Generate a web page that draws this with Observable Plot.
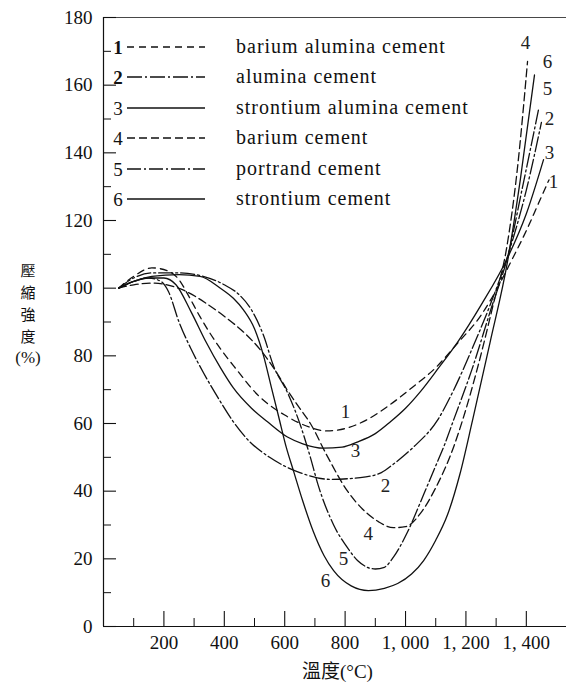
<!DOCTYPE html>
<html><head><meta charset="utf-8">
<script src="https://cdn.jsdelivr.net/npm/d3@7"></script>
<script src="https://cdn.jsdelivr.net/npm/@observablehq/plot@0.6"></script>
<style>
html,body{margin:0;padding:0;background:#fff;}
#wrap{position:relative;width:567px;height:689px;font-family:'Liberation Serif','Noto Sans CJK TC',serif;color:#111;overflow:hidden;}
#wrap > svg{position:absolute;left:0;top:0;}
.lg{position:absolute;white-space:nowrap;line-height:1;}
.lgnum{font-size:19px;width:12px;text-align:center;}
.lgtxt{font-size:20px;letter-spacing:1px;}
#ylab{position:absolute;left:14px;top:259px;width:28px;font-size:15px;line-height:22px;text-align:center;font-family:'Noto Sans CJK TC',serif;}
#ylab .pc{font-family:'Liberation Serif',serif;font-size:17px;}
#xlab{position:absolute;left:302px;top:656px;font-size:19px;white-space:nowrap;}
</style>
</head><body>
<div id="wrap"></div>
<script>
// ---- data (temperature °C, compressive strength %) ----
const seriesNames = ["barium alumina cement","alumina cement","strontium alumina cement","barium cement","portrand cement","strontium cement"];
const seriesIds = ["1","2","3","4","5","6"];
const s1 = [[50,100],[100,103.5],[160,106],[215,105],[250,102.5],[280,98],[320,91.5],[380,83],[440,76],[510,68.5],[600,62.5],[680,59],[740,57.8],[800,58.5],[870,61],[940,65],[1020,70.5],[1100,76.5],[1170,83.5],[1250,92],[1310,101],[1350,108],[1400,117],[1440,125],[1475,132]];
const s2 = [[50,100],[100,102],[150,103],[190,102],[215,99],[250,90],[290,82],[331,75],[380,67.5],[430,60.5],[480,55],[550,50],[650,45.5],[750,43.5],[850,44],[920,45.5],[960,48],[1026,53],[1106,61],[1160,70],[1220,82],[1280,95],[1340,110],[1400,129],[1450,149]];
const s3 = [[50,100],[100,102],[150,103],[200,103],[240,101],[290,93],[340,84],[387,76.5],[430,70.5],[490,64.5],[543,60.5],[609,56],[660,54],[728,52.7],[790,53],[840,54.5],[900,57],[950,60.5],[1000,64.5],[1050,69.5],[1110,76.5],[1172,84],[1250,95],[1338,109],[1400,122],[1457,138]];
const s4 = [[50,100],[100,101],[170,101.5],[230,100.5],[265,99.4],[340,95.5],[410,91],[470,86.5],[520,81.7],[570,75.5],[609,69.8],[650,64.5],[685,60],[740,50.5],[808,40],[860,34.5],[910,31],[960,29.2],[1000,29.5],[1050,33.5],[1100,41],[1159,53],[1189,61],[1240,77],[1290,95],[1335,112],[1370,135],[1404,167]];
const s5 = [[50,100],[100,103],[160,104.5],[250,104.5],[330,103.5],[400,101],[450,98],[487,94],[530,86],[563,77],[610,69],[650,60],[685,50],[710,42],[762,30],[810,23],[841,19.5],[900,17],[930,17.5],[960,20.5],[1007,28],[1060,39],[1100,47.5],[1126,53],[1159,61],[1220,76],[1280,93],[1340,110],[1390,131],[1440,152.6]];
const s6 = [[50,100],[100,102],[160,103.5],[250,104],[320,103.5],[387,100],[430,97],[464,93.5],[500,88],[530,80],[555,71],[580,62],[605,53],[629,46],[660,37],[695,28],[730,21],[762,16.5],[820,12],[877,10.6],[930,11.3],[974,12.7],[1020,15.5],[1060,19.5],[1100,25.5],[1139,33],[1180,45],[1222,61],[1280,84],[1338,108],[1380,132],[1427,163]];
const seriesData = [s1,s2,s3,s4,s5,s6];
const xMajorTicks = [200,400,600,800,1000,1200,1400];
const xMinorTicks = [100,300,500,700,900,1100,1300];
const yMajorTicks = [0,20,40,60,80,100,120,140,160,180];
const yMinorTicks = [10,30,50,70,90,110,130,150,170];
// curve number annotations placed in the chart
const curveLabels = [
  {id:"1",x:801,y:63.5},{id:"3",x:834,y:52},{id:"2",x:934,y:41.5},
  {id:"4",x:877,y:27.5},{id:"5",x:795,y:20},{id:"6",x:735,y:13.5},
  {id:"4",x:1397,y:172.5},{id:"6",x:1470,y:167},{id:"5",x:1470,y:159},
  {id:"2",x:1477,y:150},{id:"3",x:1477,y:140},{id:"1",x:1490,y:131.5}
];
const xLabel = "溫度(°C)";
const yLabelChars = ["壓","縮","強","度"];
const yLabelUnit = "(%)";

// ---- styles ----
const dashes = ["7,5","15,3,2,3",null,"8,4","14,3,2,3",null];
const W = 567, H = 689, mL = 103, mR = 1, mT = 17, mB = 63;
const plotW = W - mL - mR, plotH = H - mT - mB;

const rows = seriesData.map((arr,i)=>arr.map(([t,v])=>({t,v,id:seriesIds[i]})));

const fmt = d => d >= 1000 ? d3.format(",")(d).replace(",", ", ") : String(d);

const chart = Plot.plot({
  width: W, height: H,
  marginLeft: mL, marginRight: mR, marginTop: mT, marginBottom: mB,
  x: {domain: [0, 1533]},
  y: {domain: [0, 180]},
  style: {fontFamily: "'Liberation Serif','Noto Sans CJK TC',serif", fontSize: "19px", color: "#111", background: "transparent"},
  marks: [
    Plot.ruleX([0], {stroke: "#111", strokeWidth: 1.2}),
    Plot.ruleY([0], {stroke: "#111", strokeWidth: 1.2}),
    Plot.ruleY([180], {stroke: "#333", strokeWidth: 0.9}),
    Plot.tickY(yMajorTicks, {y: d=>d, insetRight: plotW - 13, stroke: "#111", strokeWidth: 1.1}),
    Plot.tickY(yMinorTicks, {y: d=>d, insetRight: plotW - 8, stroke: "#111", strokeWidth: 1}),
    Plot.tickX(xMajorTicks, {x: d=>d, insetTop: plotH - 15, stroke: "#111", strokeWidth: 1.1}),
    Plot.tickX(xMinorTicks, {x: d=>d, insetTop: plotH - 8, stroke: "#111", strokeWidth: 1}),
    Plot.axisY(yMajorTicks, {tickSize: 0, tickPadding: 11, label: null, fontSize: 19}),
    Plot.axisX(xMajorTicks, {tickSize: 0, tickPadding: 9, label: null, tickFormat: fmt, fontSize: 19}),
    ...rows.map((r,i)=>Plot.line(r, {x: "t", y: "v", curve: "monotone-x", stroke: "#111", strokeWidth: 1.3, strokeDasharray: dashes[i]})),
    Plot.text(curveLabels, {x: "x", y: "y", text: "id", fontSize: 19, fill: "#222"})
  ]
});

const wrap = document.getElementById("wrap");
wrap.appendChild(chart);

// legend (inside frame, upper left)
const legTop = 47, legGap = 30.4;
seriesNames.forEach((name,i)=>{
  const cy = legTop + i*legGap;
  const num = document.createElement("div");
  num.className = "lg lgnum"; num.textContent = seriesIds[i];
  num.style.left = "112px"; num.style.top = (cy-9)+"px";
  if (i < 2) num.style.fontWeight = "bold";
  wrap.appendChild(num);
  const svgNS = "http://www.w3.org/2000/svg";
  const sv = document.createElementNS(svgNS,"svg");
  sv.setAttribute("width","80"); sv.setAttribute("height","6");
  sv.setAttribute("class","lg");
  sv.style.left = "127px"; sv.style.top = (cy-3)+"px";
  const ln = document.createElementNS(svgNS,"line");
  ln.setAttribute("x1","0"); ln.setAttribute("x2","78"); ln.setAttribute("y1","3"); ln.setAttribute("y2","3");
  ln.setAttribute("stroke","#111"); ln.setAttribute("stroke-width","1.4");
  if (dashes[i]) ln.setAttribute("stroke-dasharray", dashes[i]);
  sv.appendChild(ln);
  wrap.appendChild(sv);
  const tx = document.createElement("div");
  tx.className = "lg lgtxt"; tx.textContent = name;
  tx.style.left = "236px"; tx.style.top = (cy-11)+"px";
  wrap.appendChild(tx);
});

const yl = document.createElement("div");
yl.id = "ylab";
yl.innerHTML = yLabelChars.map(c=>`<div>${c}</div>`).join("") + `<div class="pc">${yLabelUnit}</div>`;
wrap.appendChild(yl);

const xl = document.createElement("div");
xl.id = "xlab"; xl.textContent = xLabel;
wrap.appendChild(xl);
</script>
</body></html>
